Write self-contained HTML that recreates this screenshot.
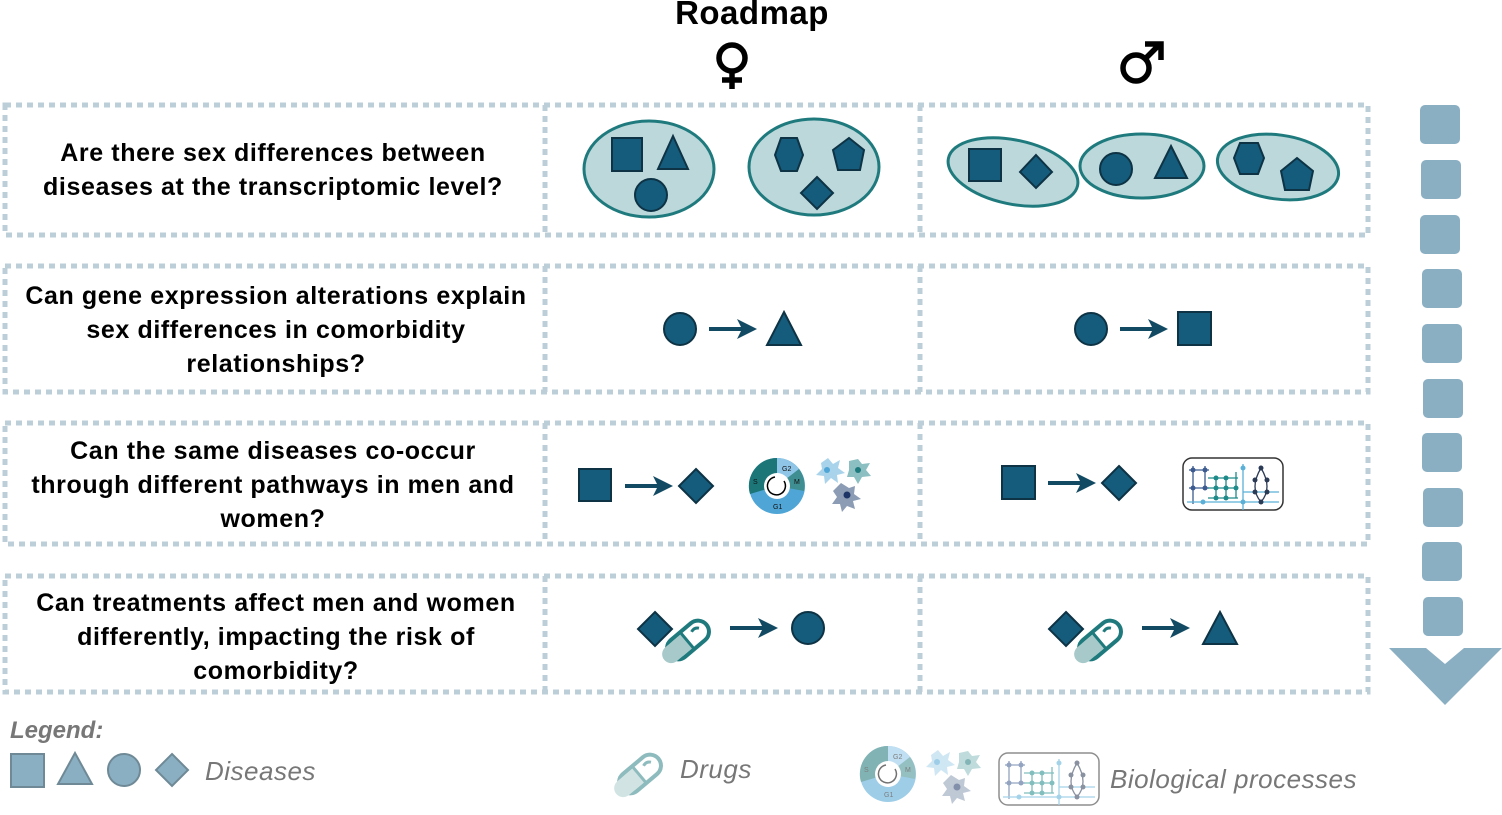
<!DOCTYPE html>
<html><head><meta charset="utf-8"><style>
html,body{margin:0;padding:0;background:#fff;}
svg{display:block;}
text{font-family:"Liberation Sans",sans-serif;}
</style></head><body>
<svg width="1502" height="815" viewBox="0 0 1502 815" xmlns="http://www.w3.org/2000/svg">
<defs>
<g id="cyc">
<circle r="28" fill="#4fa6d6"/>
<path d="M0,0 L0,-28 A28,28 0 0 1 22,-17 Z" fill="#8fc6e8"/>
<path d="M0,0 L22,-17 A28,28 0 0 1 27,5 Z" fill="#3f8e91"/>
<path d="M0,0 L-27,8 A28,28 0 0 1 0,-28 Z" fill="#1c7678"/>
<circle r="13" fill="#fff"/>
<path d="M7,-5 A9,9 0 1 1 -2,-9" fill="none" stroke="#000" stroke-width="1.5"/>
<text x="5" y="-15" font-size="7" fill="#111">G2</text><text x="17" y="-2" font-size="7" fill="#111">M</text>
<text x="-24" y="-2" font-size="7" fill="#111">S</text><text x="-4" y="23" font-size="7" fill="#111">G1</text>
</g>
<g id="cells">
<path d="M-12,-10 l7,-5 l5,6 l7,-4 l-2,8 l7,5 l-8,2 l1,8 l-7,-5 l-6,6 l-1,-8 l-8,-1 l6,-6 z" fill="#a9d3ea"/>
<circle cx="-6" cy="-3" r="3" fill="#4fa6d6"/>
<path d="M16,-12 l9,-2 l4,5 l8,-1 l-4,7 l5,6 l-9,1 l-4,7 l-4,-7 l-7,0 l2,-7 z" fill="#8bbfc1"/>
<circle cx="25" cy="-3" r="3" fill="#1f7a7e"/>
<path d="M8,10 l8,5 l6,-2 l-1,8 l7,5 l-8,2 l2,8 l-8,-3 l-5,6 l-2,-8 l-8,0 l5,-7 l-4,-6 z" fill="#8c9cb4"/>
<circle cx="14" cy="22" r="3.5" fill="#1d3566"/>
</g>
<g id="net">
<rect x="0" y="0" width="100" height="52" rx="9" fill="#fff" stroke="#333" stroke-width="1.5"/>
<g stroke-width="1.3" fill="none">
<path d="M6,12 h20 M6,30 h20 M10,8 v38 M22,8 v22" stroke="#3b5a8f"/>
<path d="M25,20 h30 M25,30 h30 M25,40 h30 M33,20 v20 M43,20 v20 M53,14 v26" stroke="#1f8a8a"/>
<path d="M60,6 v46 M4,44 h92 M60,34 h36" stroke="#5ab0d8"/>
<path d="M78,10 q-12,20 0,34 q12,-14 0,-34" stroke="#2b3a55"/>
</g>
<g fill="#3b5a8f"><circle cx="10" cy="12" r="2.5"/><circle cx="22" cy="12" r="2.5"/><circle cx="10" cy="30" r="2.5"/><circle cx="22" cy="30" r="2.5"/></g>
<g fill="#1f8a8a"><circle cx="33" cy="20" r="2.5"/><circle cx="43" cy="20" r="2.5"/><circle cx="33" cy="30" r="2.5"/><circle cx="43" cy="30" r="2.5"/><circle cx="53" cy="30" r="2.5"/><circle cx="33" cy="40" r="2.5"/><circle cx="43" cy="40" r="2.5"/></g>
<g fill="#2b3a55"><circle cx="78" cy="10" r="2.5"/><circle cx="72" cy="22" r="2.5"/><circle cx="84" cy="22" r="2.5"/><circle cx="72" cy="34" r="2.5"/><circle cx="84" cy="34" r="2.5"/><circle cx="78" cy="44" r="2.5"/></g>
<g fill="#5ab0d8"><circle cx="60" cy="10" r="2.5"/><circle cx="20" cy="44" r="2.5"/><circle cx="60" cy="44" r="2.5"/></g>
</g>
<g id="pill">
<rect x="-24" y="-11" width="48" height="22" rx="11" fill="#fff" stroke="#1f7a7e" stroke-width="4"/>
<path d="M-22,-9 h20 v18 h-20 a9,9 0 0 1 0,-18z" fill="#a7c9c9"/>
<line x1="-1" y1="-11" x2="-1" y2="11" stroke="#1f7a7e" stroke-width="3"/>
<path d="M8,-4 q5,-2 8,2" stroke="#1f7a7e" stroke-width="3" fill="none"/>
</g>
<g id="arr"><line x1="0" y1="0" x2="36" y2="0" stroke="#124a63" stroke-width="4"/><path d="M28,-10 L48,0 L28,10 L33,0 Z" fill="#124a63"/></g>
</defs>

<text x="752" y="24" font-size="33" font-weight="bold" text-anchor="middle" fill="#000" letter-spacing="0.5">Roadmap</text>
<g stroke="#000" stroke-width="5.5" fill="none" stroke-linecap="butt">
<circle cx="732" cy="58" r="13"/>
<path d="M732,71 V89 M722,80 H742"/>
<circle cx="1136" cy="68" r="13"/>
<path d="M1145,59 L1159,45 M1145,44 H1161 V60"/>
</g>

<g fill="none" stroke="#bccfd9" stroke-width="5" stroke-dasharray="6 5">
<rect x="5" y="105" width="1363" height="130"/>
<rect x="5" y="266" width="1363" height="126"/>
<rect x="5" y="423" width="1363" height="121"/>
<rect x="5" y="576" width="1363" height="116"/>
<path d="M545,105 v130 M920,105 v130 M545,266 v126 M920,266 v126 M545,423 v121 M920,423 v121 M545,576 v116 M920,576 v116"/>
</g>

<g font-size="25" font-weight="bold" text-anchor="middle" fill="#000" letter-spacing="0.6">
<text x="273" y="161">Are there sex differences between</text>
<text x="273" y="195">diseases at the transcriptomic level?</text>
<text x="276" y="304">Can gene expression alterations explain</text>
<text x="276" y="338">sex differences in comorbidity</text>
<text x="276" y="372">relationships?</text>
<text x="273" y="459">Can the same diseases co-occur</text>
<text x="273" y="493">through different pathways in men and</text>
<text x="273" y="527">women?</text>
<text x="276" y="611">Can treatments affect men and women</text>
<text x="276" y="645">differently, impacting the risk of</text>
<text x="276" y="679">comorbidity?</text>
</g>

<!-- row1 -->
<g stroke="#1f7a7e" stroke-width="3" fill="#bcd8db">
<ellipse cx="649" cy="169" rx="65" ry="48"/>
<ellipse cx="814" cy="167" rx="65" ry="48"/>
<ellipse cx="1013" cy="172" rx="66" ry="32" transform="rotate(12 1013 172)"/>
<ellipse cx="1142" cy="166" rx="62" ry="32"/>
<ellipse cx="1278" cy="167" rx="61" ry="32" transform="rotate(8 1278 167)"/>
</g>
<g fill="#155c7c" stroke="#0d3345" stroke-width="2">
<rect x="612" y="138" width="30" height="33"/><path d="M673,136 L688,169 L658,169Z"/><ellipse cx="651" cy="195" rx="16" ry="16"/>
<path d="M781,138 L797,138 L803,155 L797,171 L781,171 L775,155Z"/><path d="M849,138 L864,150 L860,170 L838,170 L833,150Z"/><path d="M817,177 L833,193 L817,209 L801,193Z"/>
<rect x="969" y="149" width="32" height="32"/><path d="M1036,155 L1052,172 L1036,188 L1020,172Z"/>
<ellipse cx="1116" cy="169" rx="16" ry="16"/><path d="M1171,146 L1187,178 L1155,178Z"/>
<path d="M1240,143 L1258,143 L1264,158 L1258,174 L1240,174 L1234,158Z"/><path d="M1297,158 L1313,171 L1309,190 L1285,190 L1281,171Z"/>
</g>

<!-- row2 -->
<g fill="#155c7c" stroke="#0d3345" stroke-width="2">
<circle cx="680" cy="329" r="16"/><path d="M784,312 L801,345 L767,345Z"/>
<circle cx="1091" cy="329" r="16"/><rect x="1178" y="312" width="33" height="33"/>
</g>
<use href="#arr" x="709" y="329"/><use href="#arr" x="1120" y="329"/>

<!-- row3 -->
<g fill="#155c7c" stroke="#0d3345" stroke-width="2">
<rect x="579" y="469" width="32" height="32"/><path d="M696,469 L713,486 L696,503 L679,486Z"/>
<rect x="1002" y="466" width="33" height="33"/><path d="M1119,466 L1136,483 L1119,500 L1102,483Z"/>
</g>
<use href="#arr" x="625" y="486"/><use href="#arr" x="1048" y="483"/>
<use href="#cyc" x="777" y="486"/>
<use href="#cells" x="833" y="473"/>
<use href="#net" x="1183" y="458"/>

<!-- row4 -->
<g fill="#155c7c" stroke="#0d3345" stroke-width="2">
<path d="M655,612 L672,629 L655,646 L638,629Z"/><circle cx="808" cy="628" r="16"/>
<path d="M1066,612 L1083,629 L1066,646 L1049,629Z"/><path d="M1220,612 L1237,644 L1203,644Z"/>
</g>
<use href="#pill" transform="translate(688,640) rotate(-40)"/>
<use href="#pill" transform="translate(1100,640) rotate(-40)"/>
<use href="#arr" x="730" y="628"/><use href="#arr" x="1142" y="628"/>

<!-- down arrow -->
<g fill="#8aafc2">
<rect x="1420" y="105" width="40" height="39" rx="5"/>
<rect x="1421" y="160" width="40" height="39" rx="5"/>
<rect x="1420" y="215" width="40" height="39" rx="5"/>
<rect x="1422" y="269" width="40" height="39" rx="5"/>
<rect x="1422" y="324" width="40" height="39" rx="5"/>
<rect x="1423" y="379" width="40" height="39" rx="5"/>
<rect x="1422" y="433" width="40" height="39" rx="5"/>
<rect x="1423" y="488" width="40" height="39" rx="5"/>
<rect x="1422" y="542" width="40" height="39" rx="5"/>
<rect x="1423" y="597" width="40" height="39" rx="5"/>
<path d="M1389,648 L1426,648 L1445,664 L1464,648 L1502,648 L1445,705Z"/>
</g>

<!-- legend -->
<text x="10" y="738" font-size="24" font-weight="bold" font-style="italic" fill="#777">Legend:</text>
<g fill="#8aafc2" stroke="#6f8a96" stroke-width="2">
<rect x="11" y="754" width="33" height="33"/><path d="M75,753 L92,784 L58,784Z"/><circle cx="124" cy="770" r="16"/><path d="M172,754 L188,770 L172,786 L156,770Z"/>
</g>
<g font-size="26" font-style="italic" fill="#777" letter-spacing="0.5">
<text x="205" y="780">Diseases</text>
<text x="680" y="778">Drugs</text>
<text x="1110" y="788">Biological processes</text>
</g>
<g opacity="0.5"><use href="#pill" transform="translate(640,774) rotate(-40)"/></g>
<g opacity="0.55"><use href="#cyc" x="888" y="774"/><use href="#cells" x="943" y="765"/><use href="#net" x="999" y="753"/></g>
</svg>
</body></html>
